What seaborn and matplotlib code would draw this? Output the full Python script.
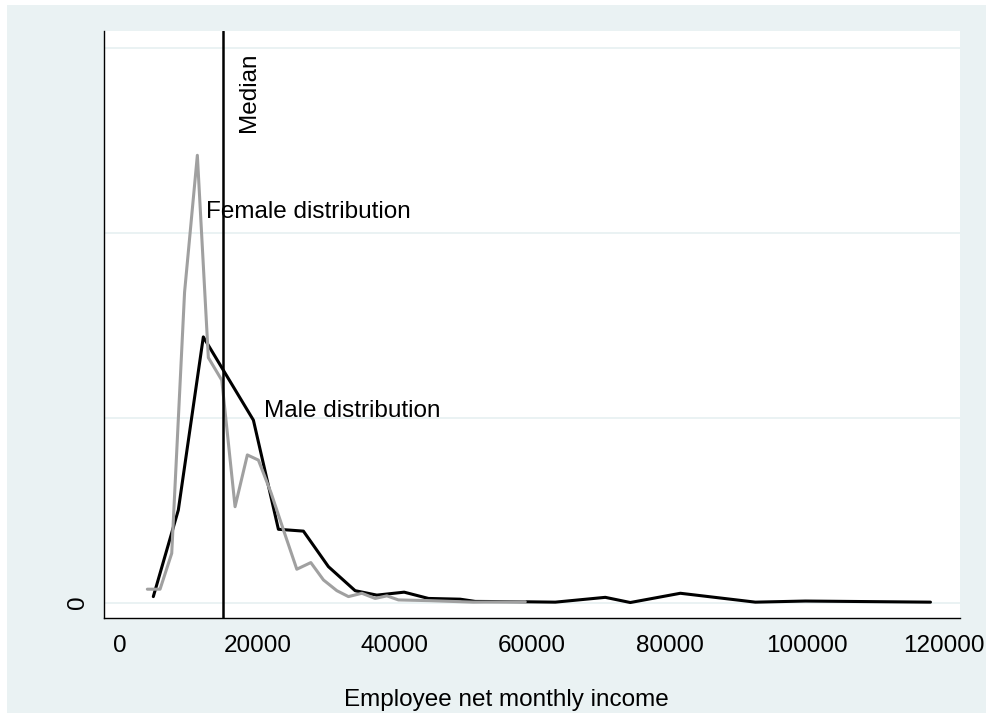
import matplotlib
matplotlib.use("Agg")
import matplotlib.pyplot as plt
from matplotlib.patches import Rectangle
import seaborn as sns
import pandas as pd

# ---- data (density shown in units of 1e-5) ----
male_income = [4850, 8490, 12130, 19420, 23060, 26700, 30340, 34230, 37390,
               41370, 44910, 49530, 51710, 59000, 63370, 70650, 74290, 81580,
               92500, 99780, 117990]
male_density = [0.16, 2.50, 7.18, 4.93, 1.98, 1.93, 0.97, 0.32, 0.20,
                0.28, 0.11, 0.09, 0.03, 0.02, 0.01, 0.14, 0.0, 0.25,
                0.01, 0.04, 0.01]

female_income = [3980, 5830, 7530, 9400, 11260, 12860, 14820, 16750, 18540,
                 20150, 22000, 23890, 25740, 27780, 29620, 31570, 33260, 35210,
                 37150, 38850, 40540, 45160, 51420, 59000]
female_density = [0.36, 0.36, 1.33, 8.39, 12.09, 6.62, 6.01, 2.59, 3.99,
                  3.85, 2.96, 1.91, 0.90, 1.08, 0.61, 0.32, 0.16, 0.25,
                  0.11, 0.18, 0.07, 0.05, 0.01, 0.02]

median_income = 15000
x_ticks = [0, 20000, 40000, 60000, 80000, 100000, 120000]
x_tick_labels = ["0", "20000", "40000", "60000", "80000", "100000", "120000"]
y_ticks = [0, 5, 10, 15]
y_tick_labels = ["0", "", "", ""]

male_df = pd.DataFrame({"income": male_income, "density": male_density})
female_df = pd.DataFrame({"income": female_income, "density": female_density})

# ---- style ----
sns.set_style("white")
plt.rcParams["font.family"] = ["Liberation Sans", "DejaVu Sans"]

W, H = 987, 713
fig = plt.figure(figsize=(W / 100, H / 100), dpi=100)
fig.patch.set_facecolor("white")
fig.patches.append(Rectangle((7 / W, 0), 1 - 7 / W, 1 - 5 / H,
                             transform=fig.transFigure, facecolor="#EAF2F3",
                             edgecolor="none", zorder=-10))

L, R, T, B = 104, 960, 31, 617.5
ax = fig.add_axes([L / W, 1 - B / H, (R - L) / W, (B - T) / H])
ax.set_facecolor("white")

grid_c = "#EAF2F3"
for yt in y_ticks:
    ax.axhline(yt, color=grid_c, lw=1.4, zorder=0)

sns.lineplot(data=male_df, x="income", y="density", ax=ax, color="black",
             lw=2.2, estimator=None, sort=False, zorder=3)
sns.lineplot(data=female_df, x="income", y="density", ax=ax, color="#A0A0A0",
             lw=2.2, estimator=None, sort=False, zorder=4)
ax.axvline(median_income, color="black", lw=1.8, zorder=5)

ax.set_xlim(-2330, 122290)
ax.set_ylim(-0.405, 15.45)

ax.set_xticks(x_ticks)
ax.set_xticklabels(x_tick_labels)
ax.set_yticks(y_ticks)
ax.set_yticklabels(y_tick_labels, rotation=90, va="center")

ax.tick_params(axis="both", direction="out", length=7.2, width=0.8,
               color="black", labelsize=17.5, labelcolor="black")
ax.tick_params(axis="x", pad=5.3)
ax.tick_params(axis="y", pad=3.6)

sns.despine(ax=ax, top=True, right=True)
for s in ("left", "bottom"):
    ax.spines[s].set_color("black")
    ax.spines[s].set_linewidth(1.0)

ax.set_ylabel("")
ax.set_xlabel("Employee net monthly income", fontsize=17.5, color="black",
              va="baseline")
ax.xaxis.set_label_coords((506 - L) / (R - L), (B - 706) / (B - T))

# annotations
ax.text(18790, 12.72, "Median", rotation=90, ha="center", va="bottom",
        fontsize=17.5, color="black", zorder=6)
ax.text(12530, 10.39, "Female distribution", ha="left", va="baseline",
        fontsize=17.5, color="black", zorder=6)
ax.text(20980, 5.01, "Male distribution", ha="left", va="baseline",
        fontsize=17.5, color="black", zorder=6)

fig.savefig("out.png", dpi=100)
